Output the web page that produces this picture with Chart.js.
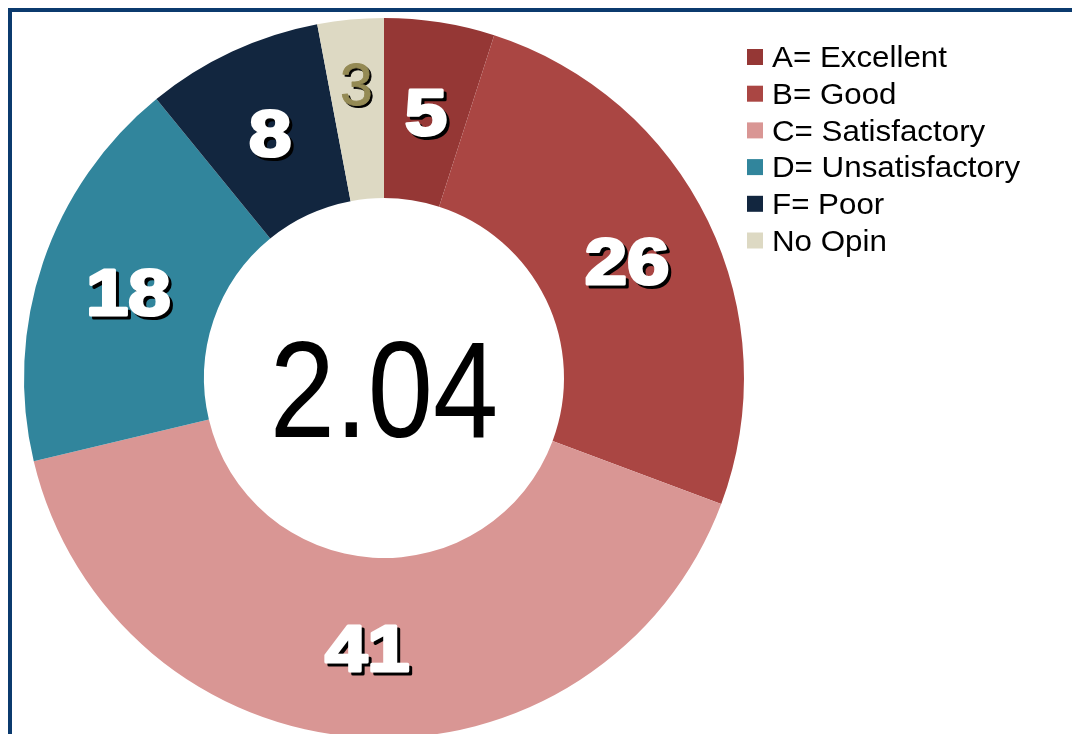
<!DOCTYPE html>
<html><head><meta charset="utf-8">
<script src="https://cdn.jsdelivr.net/npm/chart.js@4.4.1/dist/chart.umd.min.js"></script>
<style>
html,body{margin:0;padding:0;background:#fff;overflow:hidden;width:1072px;height:734px}
#frame{position:absolute;left:8px;top:8px;width:2000px;height:2000px;border-left:4px solid #0B3A6E;border-top:4px solid #0B3A6E;box-sizing:border-box}
canvas{position:absolute;left:0;top:0}
</style></head>
<body><div id="frame"></div><canvas id="c" width="1072" height="742"></canvas>
<script>
const categories = ['A= Excellent','B= Good','C= Satisfactory','D= Unsatisfactory','F= Poor','No Opin'];
const values = [5, 26, 41, 18, 8, 3];
const centerValue = '2.04';
const colors = ['#953735','#AA4643','#D99694','#31859C','#12263F','#DDD9C3'];

const boldLabel = {font:'bold 65px "Liberation Sans", Arial, sans-serif', size:65, sx:1.17, stroke:3, sh:3, color:'#FFFFFF', radial:0.5};
const labelStyles = [boldLabel, boldLabel, boldLabel, boldLabel, boldLabel,
  {font:'59px "Liberation Sans", Arial, sans-serif', size:59, sx:1.0, stroke:0.8, sh:2, color:'#948A54', radial:0.64}];

const drawPlugin = {
  id: 'drawExtras',
  afterDatasetsDraw(chart) {
    const ctx = chart.ctx;
    const meta = chart.getDatasetMeta(0);
    const data = chart.data.datasets[0].data;
    meta.data.forEach((arc, i) => {
      const st = labelStyles[i];
      const p = arc.getProps(['x','y','startAngle','endAngle','innerRadius','outerRadius'], true);
      const a = (p.startAngle + p.endAngle) / 2;
      const r = p.innerRadius + (p.outerRadius - p.innerRadius) * st.radial;
      const px = p.x + Math.cos(a) * r, py = p.y + Math.sin(a) * r;
      const txt = String(data[i]);
      ctx.save();
      ctx.font = st.font; ctx.textAlign = 'center'; ctx.textBaseline = 'alphabetic';
      ctx.translate(px, py + 0.358 * st.size);
      ctx.scale(st.sx, 1);
      ctx.lineJoin = 'round';
      ctx.fillStyle = '#000'; ctx.strokeStyle = '#000'; ctx.lineWidth = st.stroke;
      if (st.stroke) ctx.strokeText(txt, st.sh / st.sx, st.sh);
      ctx.fillText(txt, st.sh / st.sx, st.sh);
      ctx.fillStyle = st.color; ctx.strokeStyle = st.color;
      if (st.stroke) ctx.strokeText(txt, 0, 0);
      ctx.fillText(txt, 0, 0);
      ctx.restore();
    });
    // center value
    const c = meta.data[0];
    ctx.save();
    ctx.font = '138px "Liberation Sans", Arial, sans-serif';
    ctx.textAlign = 'center'; ctx.textBaseline = 'alphabetic';
    ctx.fillStyle = '#000';
    ctx.translate(c.x, c.y + 59);
    ctx.scale(0.85, 1);
    ctx.fillText(centerValue, 0, 0);
    ctx.restore();
    // legend
    const ls = 29;
    ctx.save();
    ctx.font = ls + 'px "Liberation Sans", Arial, sans-serif';
    ctx.textBaseline = 'alphabetic'; ctx.textAlign = 'left';
    chart.data.labels.forEach((lab, i) => {
      const cy = 57 + i * 36.7;
      ctx.fillStyle = colors[i];
      ctx.fillRect(747, cy - 8, 16, 16);
      ctx.save();
      ctx.translate(772, cy + 0.358 * ls);
      ctx.scale(1.08, 1);
      ctx.fillStyle = '#000';
      ctx.fillText(lab, 0, 0);
      ctx.restore();
    });
    ctx.restore();
  }
};

new Chart(document.getElementById('c'), {
  type: 'doughnut',
  data: {
    labels: categories,
    datasets: [{ data: values, backgroundColor: colors, borderWidth: 0 }]
  },
  options: {
    responsive: false,
    devicePixelRatio: 1,
    animation: false,
    cutout: '50%',
    layout: { padding: { left: 24, right: 328, top: 18, bottom: 4 } },
    plugins: { legend: { display: false }, tooltip: { enabled: false } }
  },
  plugins: [drawPlugin]
});
</script>
</body></html>
